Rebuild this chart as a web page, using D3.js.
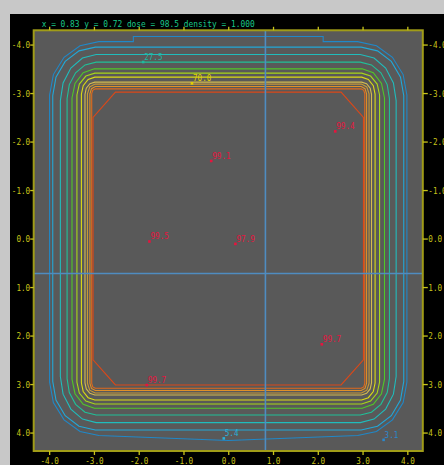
<!DOCTYPE html>
<html><head><meta charset="utf-8">
<script src="https://cdn.jsdelivr.net/npm/d3@7"></script>
<style>
html,body{margin:0;padding:0;background:#c8c8c8;overflow:hidden}
svg{display:block}
</style></head><body>
<svg id="chart" width="444" height="465"></svg>
<script>
// Isodose levels (%), outermost line first
const levels = [5, 10, 20, 30, 40, 50, 60, 70, 80, 90, 95, 98];
// Reach of each isodose line past the field edge (cm), across x and across y
const reachX = [0.99, 0.92, 0.75, 0.60, 0.49, 0.38, 0.28, 0.20, 0.145, 0.09, 0.05, 0.02];
const reachY = [1.165, 0.946, 0.794, 0.637, 0.499, 0.41, 0.328, 0.225, 0.184, 0.134, 0.087, 0.019];
// Corner rounding of each line (cm)
const cornerX = [1.1, 0.95, 0.8, 0.65, 0.5, 0.4, 0.3, 0.22, 0.17, 0.12, 0.08, 0.5];
const cornerY = [1.1, 1.0, 0.95, 0.75, 0.6, 0.45, 0.35, 0.25, 0.2, 0.15, 0.1, 0.52];
// Extra bulge of the top/bottom edge near the central axis (cm)
const crown = [0.105, 0, 0, 0, 0, 0, 0, 0, 0, 0, 0, 0];
const crownHalf = 2.12;
// Half size of the square field (cm)
const fieldHalf = 3.0;

// Point doses
const pointX = [-0.38, 0.16, -1.76, 2.39, 2.09, -1.82, -1.90, -0.81, -0.10, 3.47];
const pointY = [-1.60, 0.11, 0.06, -2.21, 2.18, 3.02, -3.64, -3.20, 4.12, 4.15];
const pointDose = [99.1, 97.9, 99.5, 99.4, 99.7, 99.7, 27.5, 70.0, 5.4, 3.1];

// Cursor readout
const cursorPos = [0.83, 0.72];
const cursorDose = 98.5;
const cursorDensity = 1.0;

const tickValues = [-4, -3, -2, -1, 0, 1, 2, 3, 4];

// ---- drawing ----
const lineColors = ["#2088c8", "#22a8d8", "#20bcbc", "#20c098", "#50c828", "#a8d818",
                    "#dcdc14", "#d4bc50", "#c89838", "#e09028", "#e06a1c", "#dc4818"];
const pointColor = d3.scaleThreshold()
  .domain([5, 20, 50, 90])
  .range(["#2a88cc", "#2ab0d8", "#20b8a0", "#e0d000", "#e6143e"]);

const svg = d3.select("#chart");
const x = d3.scaleLinear().domain([-4.35, 4.35]).range([33.5, 423]);
const y = d3.scaleLinear().domain([-4.3, 4.38]).range([30, 451]);

svg.append("rect").attr("x", 10).attr("y", 14).attr("width", 434).attr("height", 451).attr("fill", "#000");

const plot = { x0: 33.7, y0: 30.3, x1: 422.8, y1: 451 };
svg.append("rect").attr("x", plot.x0).attr("y", plot.y0)
  .attr("width", plot.x1 - plot.x0).attr("height", plot.y1 - plot.y0)
  .attr("fill", "#595959");

svg.append("defs").append("clipPath").attr("id", "clip")
  .append("rect").attr("x", plot.x0).attr("y", plot.y0)
  .attr("width", plot.x1 - plot.x0).attr("height", plot.y1 - plot.y0);

// one quadrant of an isodose line (right half, drawn upward), from the central axis to the side;
// the upper edge keeps a small step near the axis, the lower edge slopes into its corners
function quarter(i, lower) {
  const X = fieldHalf + reachX[i], Y = fieldHalf + reachY[i];
  const Yc = Y - crown[i];
  const rx = cornerX[i], ry = cornerY[i];
  const n = i === levels.length - 1 ? 1 : (i < 4 ? 4 : (i < 8 ? 3 : 2));
  const pts = [[0, -Y]];
  if (crown[i] > 0 && !lower) pts.push([crownHalf, -Y], [crownHalf, -Yc]);
  for (let k = 0; k <= n; k++) {
    const t = Math.PI / 2 * (1 - k / n);
    pts.push([X - rx + rx * Math.cos(t), -(Yc - ry + ry * Math.sin(t))]);
  }
  pts.push([X, 0]);
  return pts;
}
function isodose(i) {
  const up = quarter(i, false), low = quarter(i, true);
  const q1 = up;
  const q2 = low.slice().reverse().map(([a, b]) => [a, -b]);
  const q3 = low.map(([a, b]) => [-a, -b]);
  const q4 = up.slice().reverse().map(([a, b]) => [-a, b]);
  return q1.concat(q2, q3, q4);
}
const line = d3.line().x(d => x(d[0])).y(d => y(d[1])).curve(d3.curveLinearClosed);

const g = svg.append("g").attr("clip-path", "url(#clip)");
g.selectAll("path.iso").data(levels).join("path")
  .attr("class", "iso")
  .attr("d", (d, i) => line(isodose(i)))
  .attr("fill", "none")
  .attr("stroke", (d, i) => lineColors[i])
  .attr("stroke-width", 1.1);

// cursor crosshair
g.append("line").attr("x1", x(cursorPos[0])).attr("x2", x(cursorPos[0]))
  .attr("y1", plot.y0).attr("y2", plot.y1)
  .attr("stroke", "#4f8cc0").attr("stroke-width", 1.6);
g.append("line").attr("y1", y(cursorPos[1])).attr("y2", y(cursorPos[1]))
  .attr("x1", plot.x0).attr("x2", plot.x1)
  .attr("stroke", "#4f8cc0").attr("stroke-width", 1.6);

// point doses
const pts = pointDose.map((v, i) => ({ v, px: pointX[i], py: pointY[i] }));
const pg = g.selectAll("g.pt").data(pts).join("g").attr("class", "pt");
pg.append("rect")
  .attr("x", d => x(d.px) - 1.3).attr("y", d => y(d.py) - 1.3)
  .attr("width", 2.6).attr("height", 2.6)
  .attr("fill", d => pointColor(d.v));
pg.append("text")
  .attr("x", d => x(d.px) + 1).attr("y", d => y(d.py) - 2)
  .attr("fill", d => pointColor(d.v))
  .attr("font-family", "DejaVu Sans Mono").attr("font-size", "8.8px")
  .attr("textLength", d => d.v.toFixed(1).length * 4.6)
  .attr("lengthAdjust", "spacingAndGlyphs")
  .text(d => d.v.toFixed(1));

// frame
svg.append("rect").attr("x", plot.x0).attr("y", plot.y0)
  .attr("width", plot.x1 - plot.x0).attr("height", plot.y1 - plot.y0)
  .attr("fill", "none").attr("stroke", "#a09c18").attr("stroke-width", 2);

// axes
const fmt = d => d.toFixed(1);
function styleAxis(sel) {
  sel.select(".domain").remove();
  sel.selectAll(".tick line").attr("stroke", "#c8c41a").attr("stroke-width", 1.3);
  sel.selectAll(".tick text")
    .attr("fill", "#c8c41a")
    .attr("font-family", "DejaVu Sans Mono").attr("font-size", "9.5px")
    .attr("textLength", function () { return this.textContent.length * 4.6; })
    .attr("lengthAdjust", "spacingAndGlyphs");
  sel.attr("font-family", null).attr("font-size", null);
}
svg.append("g").attr("transform", `translate(${plot.x0},0)`)
  .call(d3.axisLeft(y).tickValues(tickValues).tickFormat(fmt).tickSize(3.5).tickPadding(0))
  .call(styleAxis);
svg.append("g").attr("transform", `translate(${plot.x1},0)`)
  .call(d3.axisRight(y).tickValues(tickValues).tickFormat(fmt).tickSize(5).tickPadding(0.5))
  .call(styleAxis);
svg.append("g").attr("transform", `translate(0,${plot.y1})`)
  .call(d3.axisBottom(x).tickValues(tickValues).tickFormat(fmt).tickSize(4).tickPadding(2.7))
  .call(styleAxis);
svg.append("g").attr("transform", `translate(0,${plot.y0})`)
  .call(d3.axisTop(x).tickValues(tickValues).tickFormat("").tickSize(3.5))
  .call(styleAxis);

// readout line
const readout = `x = ${cursorPos[0].toFixed(2)} y = ${cursorPos[1].toFixed(2)} dose = ${cursorDose.toFixed(1)} density = ${cursorDensity.toFixed(3)}`;
svg.append("text").attr("x", 41.7).attr("y", 27.2)
  .attr("fill", "#18c88a")
  .attr("font-family", "DejaVu Sans Mono").attr("font-size", "9.5px")
  .attr("textLength", 213).attr("lengthAdjust", "spacingAndGlyphs")
  .text(readout);
</script>
</body></html>
